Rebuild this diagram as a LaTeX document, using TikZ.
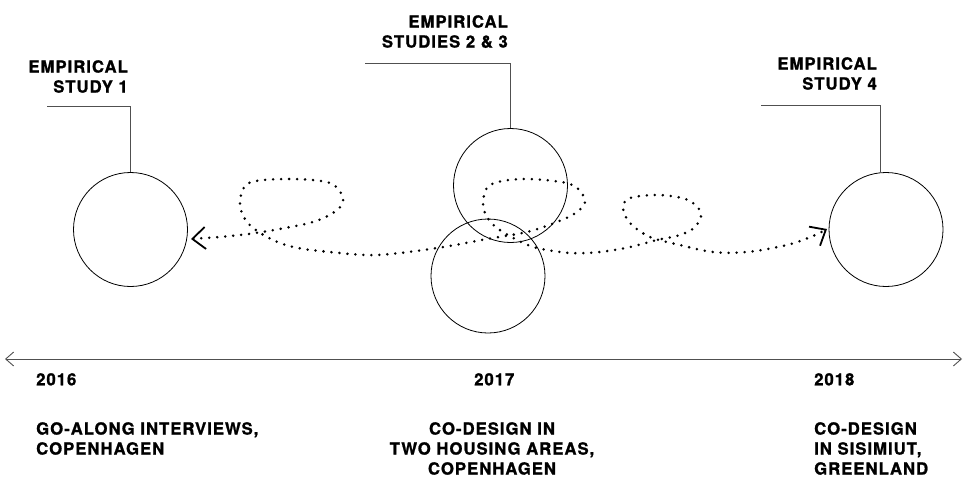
\documentclass[tikz,border=0pt]{standalone}
\usepackage{fontspec}
\usetikzlibrary{arrows.meta}
\newfontfamily\heros[LetterSpace=6,BoldFeatures={FakeBold=1.2}]{TeX Gyre Heros}
\definecolor{leadgray}{HTML}{505050}

\begin{document}
\begin{tikzpicture}[x=1pt, y=-1pt,
    study/.style={circle, draw, line width=0.8pt, minimum size=114pt, inner sep=0pt},
    leader/.style={draw=leadgray, line width=0.9pt},
    heading/.style={font=\heros\bfseries\fontsize{16.7}{20}\selectfont, inner sep=0pt, align=right, anchor=north east},
    caption/.style={font=\heros\bfseries\fontsize{16.7}{20}\selectfont, inner sep=0pt, align=left, anchor=north west},
    barb/.tip={Straight Barb[length=13pt, width=22pt, line width=1.8pt]},
    trail/.style={line width=2.8pt, line cap=round, dash pattern=on 0pt off 8pt, barb-barb}]
  \useasboundingbox (0,0) rectangle (965,477);

  % the four studies
  \node [study] (s1) at (130.5,229.5) {};
  \node [study] (s2) at (510.5,185.5) {};
  \node [study] (s3) at (488,276) {};
  \node [study] (s4) at (886,229.5) {};

  % headings with leaders
  \node [heading] (h1) at (128,60) {EMPIRICAL\\STUDY 1};
  \node [heading] (h2) at (508,15) {EMPIRICAL\\STUDIES 2 \& 3};
  \node [heading] (h4) at (877,57) {EMPIRICAL\\STUDY 4};
  \coordinate (e1) at (47,106);
  \coordinate (e2) at (365,63);
  \coordinate (e4) at (761,105);
  \draw [leader] (s1.north) |- (e1);
  \draw [leader] (s2.north) |- (e2);
  \draw [leader] ([xshift=-6pt]s4.north) |- (e4);

  % the dotted trail between the studies
  \coordinate (t0) at (191,239);
  \coordinate (t1) at (827,229);
  \draw [trail] plot [smooth, tension=0.55] coordinates {
    (t0) (230,236) (262,232) (313,222) (337,210) (343,198) (330,183) (290,179)
    (249,183) (240,203) (247,222) (267,237) (293,247) (330,252) (377,255)
    (437,248) (487,239) (527,232) (557,222) (577,212) (585,200) (570,184)
    (523,179) (490,185) (483,203) (487,217) (497,228) (517,240) (537,248)
    (570,253) (600,252) (630,247) (657,240) (680,235) (695,227) (701,213)
    (688,200) (660,195) (630,198) (623,208) (630,223) (650,237) (680,245)
    (713,252) (747,252) (787,245) (813,236) (t1)};

  % timeline
  \coordinate (a0) at (5,359);
  \coordinate (a1) at (962,359);
  \draw [leadgray, line width=0.9pt, {Straight Barb[length=8pt, width=14pt]}-{Straight Barb[length=8pt, width=14pt]}] (a0) -- (a1);

  % years and places
  \node [caption] (y1) at (36,373) {2016};
  \node [caption] (y2) at (474,373) {2017};
  \node [caption] (y3) at (814,373) {2018};
  \node [caption] (p1) at (36,422) {GO-ALONG INTERVIEWS,\\COPENHAGEN};
  \node [caption, align=center, anchor=north] (p2) at (492,422) {CO-DESIGN IN\\TWO HOUSING AREAS,\\COPENHAGEN};
  \node [caption] (p3) at (814,422) {CO-DESIGN\\IN SISIMIUT,\\GREENLAND};
\end{tikzpicture}
\end{document}
